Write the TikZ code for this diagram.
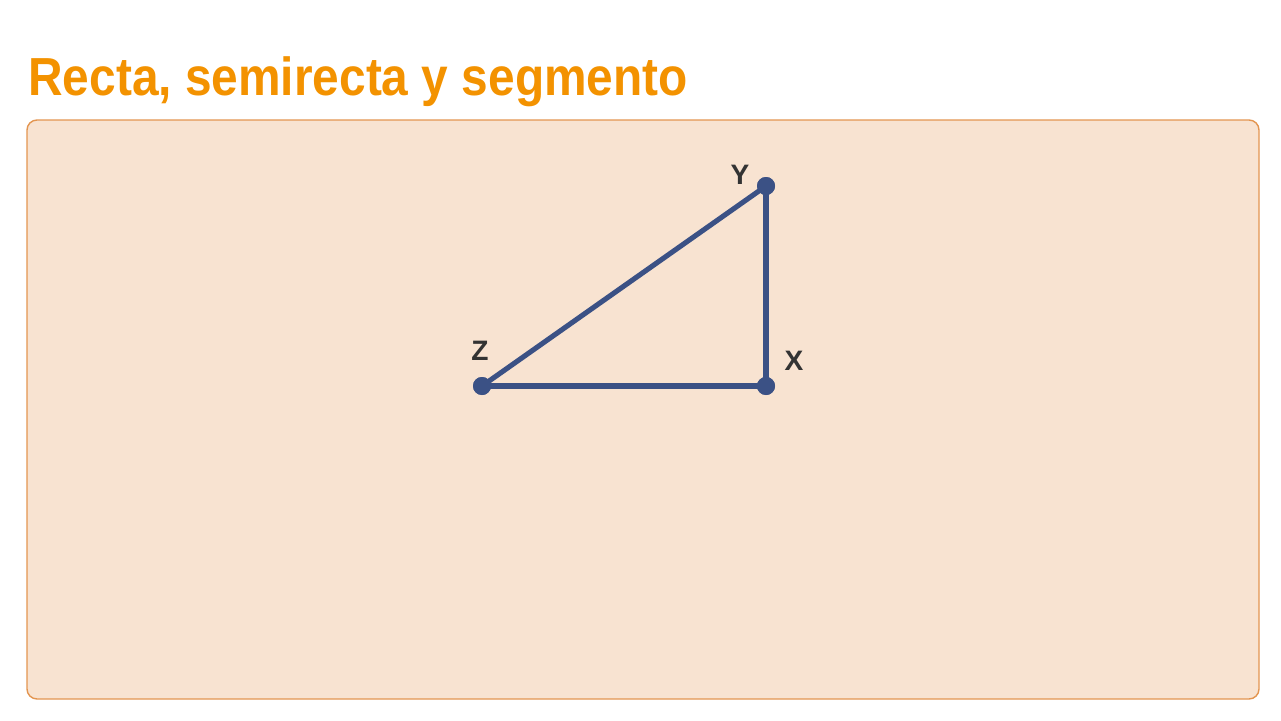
\documentclass[tikz,border=0pt]{standalone}
\usepackage{fontspec}
\setmainfont{Liberation Sans}
\usepackage{xcolor}
\usepackage{tikz}
\usetikzlibrary{positioning}
\definecolor{titleorange}{HTML}{F39200}
\definecolor{panelfill}{HTML}{F8E3D1}
\definecolor{paneledge}{HTML}{E39550}
\definecolor{segblue}{HTML}{3B5185}
\definecolor{labelgray}{HTML}{333333}

\begin{document}
\begin{tikzpicture}[x=0.02cm, y=-0.02cm,
    pointdot/.style={circle, fill=segblue, inner sep=0pt, minimum size=0.36cm},
    seg/.style={draw=segblue, line width=2.9pt},
    ptlabel/.style={font=\fontsize{16}{18}\selectfont\bfseries, text=labelgray, inner sep=0pt}
]
\useasboundingbox (0,0) rectangle (1281,720);
% Title
\node[anchor=base west, font=\fontsize{30.5}{34}\selectfont\bfseries, text=titleorange, inner sep=0pt, xscale=0.893] (title) at (28,95) {Recta, semirecta y segmento};
% Panel
\draw[draw=paneledge, fill=panelfill, line width=0.8pt, rounded corners=0.2cm] (27,120) rectangle (1259,699);
% Points
\node[pointdot] (Z) at (482,386) {};
\node[pointdot] (X) at (766,386) {};
\node[pointdot] (Y) at (766,186) {};
% Segments
\draw[seg] (Z.center) -- (X.center);
\draw[seg] (X.center) -- (Y.center);
\draw[seg] (Y.center) -- (Z.center);
\node[pointdot] at (Z) {};
\node[pointdot] at (X) {};
\node[pointdot] at (Y) {};
% Labels
\node[ptlabel] (labY) at (740,175) {Y};
\node[ptlabel] (labZ) at (480,351) {Z};
\node[ptlabel] (labX) at (794,361) {X};
\end{tikzpicture}
\end{document}
